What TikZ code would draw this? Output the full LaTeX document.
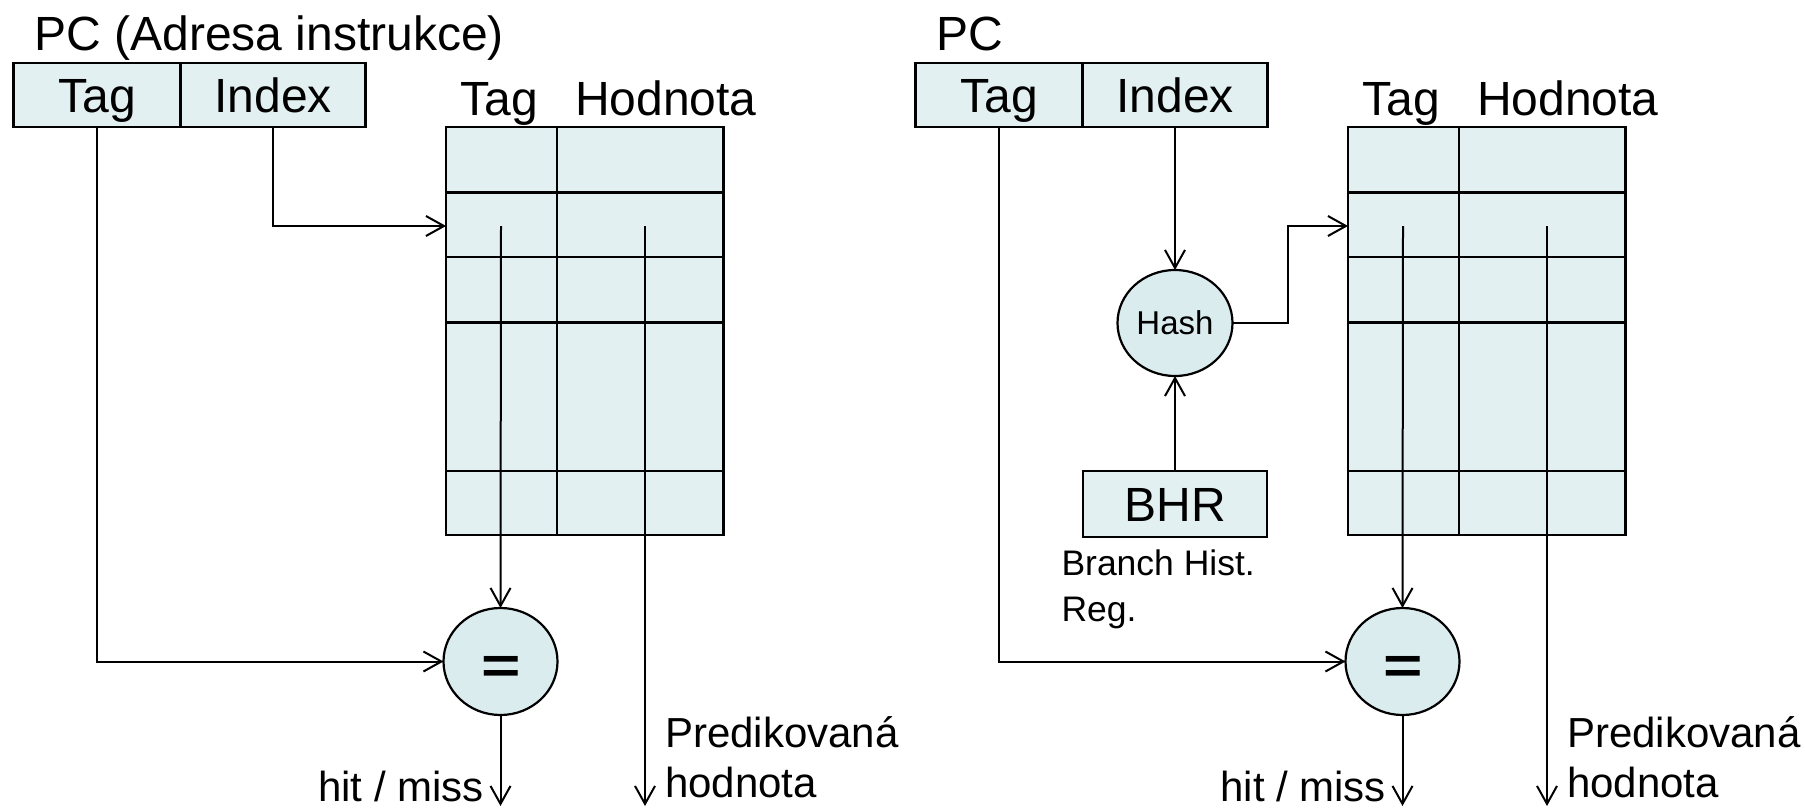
\documentclass[tikz,border=0pt]{standalone}
\usepackage{fontspec}
\setmainfont{Liberation Sans}
\usetikzlibrary{arrows.meta,shapes.geometric}
\definecolor{boxfill}{HTML}{E2F0F1}
\definecolor{ellfill}{HTML}{DAECEE}
\tikzset{
  every node/.style={inner sep=0pt, outer sep=0pt},
  big/.style={font=\fontsize{48}{55}\selectfont},
  mid/.style={font=\fontsize{42}{50}\selectfont},
  small/.style={font=\fontsize{33}{40}\selectfont},
  branchtxt/.style={font=\fontsize{35.5}{46.5}\selectfont, align=left},
  cell/.style={draw, line width=2.2pt, fill=boxfill, big, text height=34.4pt, text depth=0pt},
  grid/.style={line width=2.2pt},
  conn/.style={line width=2pt, -{Straight Barb[length=18pt,width=20pt]}},
  cmp/.style={ellipse, draw, line width=2.2pt, fill=ellfill, minimum width=114pt, minimum height=107pt},
  eqsign/.style={font=\fontsize{52}{55}\selectfont\bfseries},
}
\newcommand\predhalf[3]{%
\begin{scope}[xshift=#2pt]
  \node[big, anchor=base west] (title#1) at (34.5,51) {#3};
  \node[cell, minimum width=167pt, minimum height=64pt] (tag#1) at (97,95) {Tag};
  \node[cell, minimum width=185pt, minimum height=64pt] (idx#1) at (273,95) {Index};
  \node[draw, line width=2.2pt, fill=boxfill, minimum width=277.5pt, minimum height=408pt] (tbl#1) at (584.75,331) {};
  \draw[grid] (557,127) -- (557,535);
  \foreach \yy in {192.5,257,322.5,471} \draw[grid] (446,\yy) -- (723.5,\yy);
  \node[big, anchor=base west] (htag#1) at (460.5,115) {Tag};
  \node[big, anchor=base west] (hval#1) at (575,115) {Hodnota};
  \coordinate (row#1) at (446,226);
  \coordinate (tsrc#1) at (501,226);
  \coordinate (vsrc#1) at (645,226);
  \coordinate (vout#1) at (645,806);
  \node[cmp] (eq#1) at (500.5,661.5) {};
  \node[eqsign] (eqs#1) at (501.5,670) {\scalebox{1.3}[1]{=}};
  \coordinate (hout#1) at (500.5,806);
  \draw[conn] (tsrc#1) -- (eq#1.north);
  \draw[conn] (vsrc#1) -- (vout#1);
  \draw[conn] (eq#1.south) -- (hout#1);
  \draw[conn] (tag#1.south) |- (eq#1.west);
  \node[mid, anchor=base east] (hit#1) at (484,801) {hit / miss};
  \node[mid, anchor=base west] (pred#1) at (665,747) {Predikovaná};
  \node[mid, anchor=base west] (hod#1) at (665,797) {hodnota};
\end{scope}}
\begin{document}
\begin{tikzpicture}[x=1pt,y=-1pt]
\useasboundingbox (0,0) rectangle (1805,808);
\predhalf{L}{0}{PC (Adresa instrukce)}
\predhalf{R}{902}{PC}
% left: index directly to table row
\draw[conn] (idxL.south) |- (rowL);
% right: hashed index
\node[cmp, minimum width=115pt, minimum height=106pt, small] (hash) at (1175,323) {Hash};
\node[cell, minimum width=184pt, minimum height=66pt] (bhr) at (1175,504) {BHR};
\node[branchtxt, anchor=base west] (bhrlab) at (1061.5,621.5) {Branch Hist.\\Reg.};
\coordinate (bendR) at (1288,226);
\draw[conn] (idxR.south) -- (hash.north);
\draw[conn] (bhr.north) -- (hash.south);
\draw[conn] (hash.east) -| (bendR) -- (rowR);
\end{tikzpicture}
\end{document}
